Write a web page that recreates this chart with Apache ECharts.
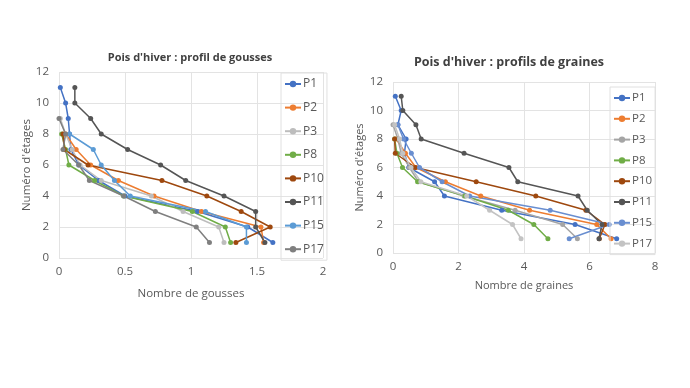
<!DOCTYPE html>
<html><head><meta charset="utf-8">
<script src="https://cdn.jsdelivr.net/npm/echarts@6/dist/echarts.min.js"></script>
<style>html,body{margin:0;padding:0;background:#fff;}#a{position:absolute;left:0;top:0;width:345px;height:388px;}#b{position:absolute;left:345px;top:0;width:345px;height:388px;}</style>
</head><body><div id="a"></div><div id="b"></div>
<script>
// Values listed from étage 1 upward
const seriesNames = ['P1','P2','P3','P8','P10','P11','P15','P17'];
// Gousses (left chart)
const gousses_P1  = [1.62,1.43,1.05,0.50,0.30,0.15,0.09,0.08,0.07,0.05,0.01];
const gousses_P2  = [1.55,1.53,1.08,0.72,0.45,0.24,0.13,0.05];
const gousses_P3  = [1.25,1.21,0.94,0.70,0.32,0.16,0.10,0.05,0.01];
const gousses_P8  = [1.30,1.26,1.01,0.49,0.27,0.075,0.05,0.02];
const gousses_P10 = [1.34,1.60,1.38,1.12,0.78,0.22,0.04,0.03];
const gousses_P11 = [1.56,1.49,1.49,1.25,0.96,0.77,0.52,0.32,0.24,0.12,0.12];
const gousses_P15 = [1.42,1.42,1.11,0.54,0.42,0.32,0.26,0.08];
const gousses_P17 = [1.14,1.04,0.73,0.49,0.23,0.15,0.03,0.05,0.00];
// Graines (right chart)
const graines_P1  = [6.83,5.56,3.32,1.57,1.27,0.48,0.35,0.40,0.15,0.25,0.07];
const graines_P2  = [6.66,6.22,4.17,2.68,1.60,0.70,0.38,0.10];
const graines_P3  = [5.63,5.18,3.73,2.17,0.78,0.50,0.25,0.15,0.00];
const graines_P8  = [4.73,4.30,3.52,2.20,0.75,0.29,0.12,0.05];
const graines_P10 = [6.30,6.47,5.89,4.36,2.54,0.68,0.07,0.05];
const graines_P11 = [6.29,6.38,5.93,5.65,3.81,3.54,2.17,0.86,0.70,0.30,0.25];
const graines_P15 = [5.38,6.60,4.80,2.34,1.50,0.81,0.56,0.32,0.15];
const graines_P17 = [3.91,3.65,2.95,2.25,0.85,0.55,0.30,0.20,0.05];

const goussesData = [gousses_P1,gousses_P2,gousses_P3,gousses_P8,gousses_P10,gousses_P11,gousses_P15,gousses_P17];
const grainesData = [graines_P1,graines_P2,graines_P3,graines_P8,graines_P10,graines_P11,graines_P15,graines_P17];
const colorsLeft  = ['#4472C4','#ED7D31','#BDBDBD','#70AD47','#9E480E','#555555','#5B9BD5','#7F7F7F'];
const colorsRight = ['#4472C4','#ED7D31','#A5A5A5','#70AD47','#9E480E','#555555','#698ED0','#C3C3C3'];

const FONT = "'Open Sans', 'Noto Sans', sans-serif";
const gridCol = '#E3E3E3';
const txtCol = '#595959';

function buildSeries(data, colors){
  return data.map((vals,i)=>({
    name: seriesNames[i], type:'line',
    data: vals.map((v,k)=>[v,k+1]),
    symbol:'circle', symbolSize:5, showSymbol:true,
    lineStyle:{width:1.5,color:colors[i]}, itemStyle:{color:colors[i]},
    emphasis:{disabled:true}, animation:false
  }));
}

function makeOption(cfg){
  return {
    animation:false,
    color: cfg.colors,
    title:{text:cfg.title, left:cfg.titleX, top:cfg.titleY, textAlign:'center',
      textStyle:{fontFamily:FONT,fontSize:cfg.titleSize,fontWeight:'bold',color:'#404040'}},
    legend:{orient:'vertical', left:cfg.legLeft, top:cfg.legTop, itemGap:cfg.legGap,
      itemWidth:16, itemHeight:8, padding:[5,3,5,3],
      borderColor:'#E0E0E0', borderWidth:1,
      data:seriesNames,
      textStyle:{fontFamily:FONT,fontSize:cfg.legFont,color:txtCol, padding:[0,0,0,-3]}},
    grid:{left:cfg.gl, right:cfg.gr, top:cfg.gt, bottom:cfg.gb, containLabel:false},
    xAxis:{type:'value', min:0, max:cfg.xmax, interval:cfg.xint,
      name:cfg.xname, nameLocation:'middle', nameGap:cfg.xnameGap, nameMoveOverlap:false,
      nameTextStyle:{fontFamily:FONT,fontSize:cfg.nameFont,color:txtCol},
      axisLine:{show:false}, axisTick:{show:false},
      axisLabel:{fontFamily:FONT,fontSize:cfg.tickFont,color:txtCol,margin:cfg.xLabMargin},
      splitLine:{show:true,lineStyle:{color:gridCol,width:1}}},
    yAxis:{type:'value', min:0, max:12, interval:2,
      name:"Numéro d'étages", nameLocation:'middle', nameGap:cfg.ynameGap, nameRotate:90, nameMoveOverlap:false,
      nameTextStyle:{fontFamily:FONT,fontSize:cfg.nameFont,color:txtCol},
      axisLine:{show:false}, axisTick:{show:false},
      axisLabel:{fontFamily:FONT,fontSize:cfg.tickFont,color:txtCol,margin:cfg.yLabMargin},
      splitLine:{show:true,lineStyle:{color:gridCol,width:1}}},
    series: buildSeries(cfg.data, cfg.colors)
  };
}

const ca = echarts.init(document.getElementById('a'),null,{renderer:'canvas'});
ca.setOption(makeOption({
  title:"Pois d'hiver : profil de gousses", titleX:185, titleY:47, titleSize:11,
  colors:colorsLeft, data:goussesData,
  legLeft:281, legTop:73, legGap:11.6, legFont:12,
  gl:59, gr:22, gt:72, gb:130,
  xmax:2, xint:0.5, xname:'Nombre de gousses', xnameGap:30, ynameGap:26,
  nameFont:11.5, tickFont:11.5, xLabMargin:8, yLabMargin:10
}));
const cb = echarts.init(document.getElementById('b'),null,{renderer:'canvas'});
cb.setOption(makeOption({
  title:"Pois d'hiver : profils de graines", titleX:159, titleY:51, titleSize:12.5,
  colors:colorsRight, data:grainesData,
  legLeft:265, legTop:87, legGap:8.8, legFont:11.5,
  gl:48, gr:35, gt:82, gb:135,
  xmax:8, xint:2, xname:'Nombre de graines', xnameGap:27, ynameGap:28,
  nameFont:11, tickFont:11.5, xLabMargin:8, yLabMargin:10
}));
</script></body></html>
